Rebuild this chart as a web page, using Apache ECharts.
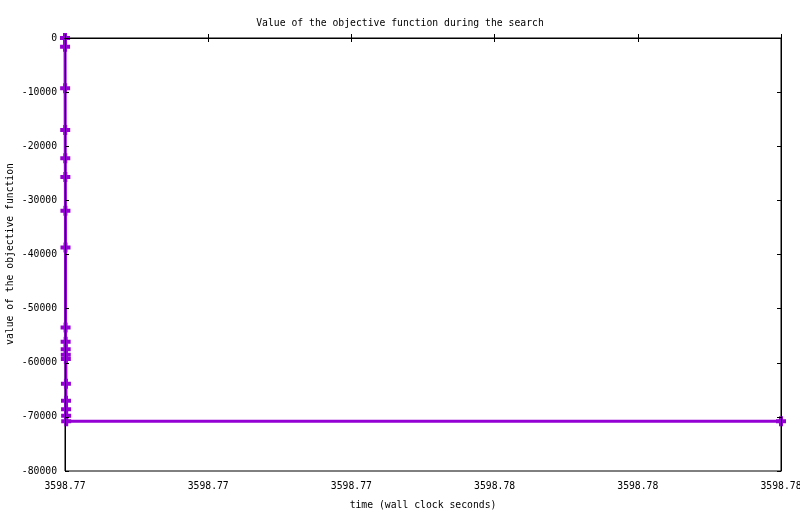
<!DOCTYPE html>
<html><head><meta charset="utf-8">
<script src="https://cdn.jsdelivr.net/npm/echarts@6/dist/echarts.min.js"></script>
<style>html,body{margin:0;padding:0;background:#fff}#c{width:800px;height:514px}</style>
</head><body><div id="c"></div>
<script>
const times = [3598.770000, 3598.770001, 3598.770002, 3598.770003, 3598.770004, 3598.770005, 3598.770006, 3598.770007, 3598.770008, 3598.770009, 3598.770010, 3598.770011, 3598.770012, 3598.770013, 3598.770014, 3598.770015, 3598.770016, 3598.770017, 3598.780000];
const objective = [0, -1600, -9300, -17000, -22200, -25700, -31900, -38700, -53500, -56100, -57500, -58500, -59300, -63900, -67000, -68600, -69800, -70800, -70800];
const xTicks = {min: 3598.770, max: 3598.780, interval: 0.002};
const yTicks = {min: -80000, max: 0, interval: 10000};
const yAxisTitle = 'value of the objective function';

const font = 'DejaVu Sans Mono';
const fs = 9.75;
const chart = echarts.init(document.getElementById('c'), null, {renderer: 'canvas'});
const plusPath = 'path://M3,0H7V3H10V7H7V10H3V7H0V3H3Z';
const commonX = {type: 'value', min: xTicks.min, max: xTicks.max, interval: xTicks.interval, z: 5,
  axisLine: {show: true, lineStyle: {color: '#000', width: 1}},
  axisTick: {show: true, inside: true, length: 4, lineStyle: {color: '#000'}},
  splitLine: {show: false}};
const commonY = {type: 'value', min: yTicks.min, max: yTicks.max, interval: yTicks.interval, z: 5,
  axisLine: {show: true, lineStyle: {color: '#000', width: 1}},
  axisTick: {show: true, inside: true, length: 4, lineStyle: {color: '#000'}},
  splitLine: {show: false}};
chart.setOption({
  animation: false,
  title: {text: 'Value of the objective function during the search', left: 'center', top: 13,
    textStyle: {fontFamily: font, fontSize: fs, fontWeight: 'normal', color: '#000'}},
  graphic: [{type: 'text', x: 10, y: 254, rotation: Math.PI / 2,
    style: {text: yAxisTitle, fontFamily: font, fontSize: fs, fill: '#000',
      textAlign: 'center', textVerticalAlign: 'middle'}}],
  grid: {left: 65, right: 19, top: 38, bottom: 43, containLabel: false, outerBoundsMode: 'none',
    show: true, borderColor: '#000', borderWidth: 1},
  xAxis: [
    Object.assign({}, commonX, {position: 'bottom',
      name: 'time (wall clock seconds)', nameLocation: 'middle', nameGap: 29,
      nameTextStyle: {fontFamily: font, fontSize: fs, color: '#000'},
      axisLabel: {show: true, margin: 10, fontFamily: font, fontSize: fs, color: '#000',
        hideOverlap: false, formatter: v => v.toFixed(2)}}),
    Object.assign({}, commonX, {position: 'top', axisLabel: {show: false}})
  ],
  yAxis: [
    Object.assign({}, commonY, {position: 'left',
      axisLabel: {show: true, margin: 8, fontFamily: font, fontSize: fs, color: '#000',
        formatter: v => String(v)}}),
    Object.assign({}, commonY, {position: 'right', axisLabel: {show: false}})
  ],
  series: [{
    type: 'line', xAxisIndex: 0, yAxisIndex: 0, z: 2,
    data: times.map((t, i) => [t, objective[i]]),
    symbol: plusPath, symbolSize: 10, showAllSymbol: true,
    lineStyle: {color: '#9400d3', width: 3},
    itemStyle: {color: '#9400d3'},
    clip: false
  }]
});
</script></body></html>
